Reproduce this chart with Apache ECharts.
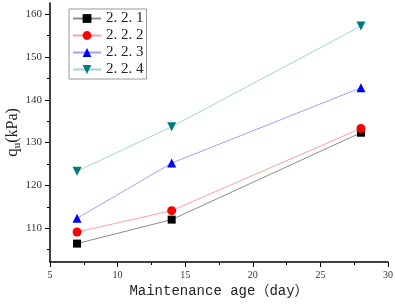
<!DOCTYPE html>
<html>
<head>
<meta charset="utf-8">
<script src="https://cdn.jsdelivr.net/npm/echarts@6/dist/echarts.min.js"></script>
<style>
html, body { margin: 0; padding: 0; background: #fff; }
#main { width: 395px; height: 305px; }
</style>
</head>
<body>
<div id="main"></div>
<script>
// 养护龄期 (day)
var days = [7, 14, 28];
// 各组无侧限抗压强度 qu (kPa)
var s221 = [106.4, 112.0, 132.3];
var s222 = [109.1, 114.1, 133.3];
var s223 = [112.3, 125.2, 142.8];
var s224 = [123.3, 133.7, 157.2];
var names = ['2. 2. 1', '2. 2. 2', '2. 2. 3', '2. 2. 4'];
var yLabels = [110, 120, 130, 140, 150, 160];
var yMinor = [105, 115, 125, 135, 145, 155];

function pairs(vals) {
    var out = [];
    for (var i = 0; i < days.length; i++) out.push([days[i], vals[i]]);
    return out;
}

function makeSerie(name, vals, lineColor, symColor, symbol, size, rot) {
    return {
        name: name,
        type: 'line',
        data: pairs(vals),
        symbol: symbol,
        symbolSize: size,
        symbolRotate: rot || 0,
        lineStyle: { color: lineColor, width: 1 },
        itemStyle: { color: symColor },
        emphasis: { disabled: true }
    };
}

var myChart = echarts.init(document.getElementById('main'));
var option = {
    backgroundColor: '#fff',
    animation: false,
    grid: { left: 50, right: 7, top: 3, bottom: 43, containLabel: false, outerBoundsMode: 'none' },
    legend: {
        orient: 'vertical',
        left: 69,
        top: 9,
        borderColor: '#999',
        borderWidth: 1,
        borderRadius: 0,
        padding: [2, 3, 2, 3],
        itemGap: 2,
        itemWidth: 28,
        itemHeight: 11,
        textStyle: { fontFamily: 'Liberation Serif', fontSize: 15, color: '#222' },
        data: names
    },
    xAxis: {
        type: 'value',
        min: 5,
        max: 30,
        interval: 5,
        name: 'Maintenance age\uff08day\uff09',
        nameLocation: 'middle',
        nameGap: 22,
        nameMoveOverlap: false,
        nameTextStyle: { fontFamily: 'Liberation Mono, Noto Sans CJK SC', fontSize: 14, color: '#222' },
        axisLine: { lineStyle: { color: '#000', width: 1.5 } },
        axisTick: { inside: false, length: 5, lineStyle: { color: '#000' } },
        minorTick: { show: true, splitNumber: 2, length: 3, lineStyle: { color: '#000' } },
        axisLabel: { fontFamily: 'Liberation Serif', fontSize: 10, color: '#333', margin: 8 },
        splitLine: { show: false }
    },
    yAxis: [{
        type: 'value',
        min: 102.1,
        max: 162.6,
        name: '{q|q}{u|u}{t|(kPa)}',
        nameLocation: 'middle',
        nameGap: 27,
        nameMoveOverlap: false,
        nameTextStyle: {
            fontFamily: 'Liberation Serif',
            color: '#222',
            rich: {
                q: { fontFamily: 'Liberation Serif', fontSize: 17, color: '#222' },
                u: { fontFamily: 'Liberation Serif', fontSize: 11, color: '#222', padding: [10, 0, 0, 0] },
                t: { fontFamily: 'Liberation Serif', fontSize: 16, color: '#222' }
            }
        },
        axisLine: { show: true, lineStyle: { color: '#000', width: 1.5 } },
        axisTick: { show: true, length: 5, customValues: yLabels, lineStyle: { color: '#000' } },
        axisLabel: { customValues: yLabels, fontFamily: 'Liberation Serif', fontSize: 11, color: '#333', margin: 8 },
        splitLine: { show: false }
    }, {
        type: 'value',
        position: 'left',
        min: 102.1,
        max: 162.6,
        axisLine: { show: false },
        axisTick: { show: true, length: 3, customValues: yMinor, lineStyle: { color: '#000' } },
        axisLabel: { show: false },
        splitLine: { show: false }
    }],
    series: [
        makeSerie(names[0], s221, '#8c8c8c', '#000', 'rect', 8),
        makeSerie(names[1], s222, '#ffa0a0', '#ff0000', 'circle', 9),
        makeSerie(names[2], s223, '#a0a0ff', '#0000ff', 'triangle', 9),
        makeSerie(names[3], s224, '#9ed6d2', '#007b7b', 'triangle', 9, 180)
    ]
};
myChart.setOption(option);
</script>
</body>
</html>
